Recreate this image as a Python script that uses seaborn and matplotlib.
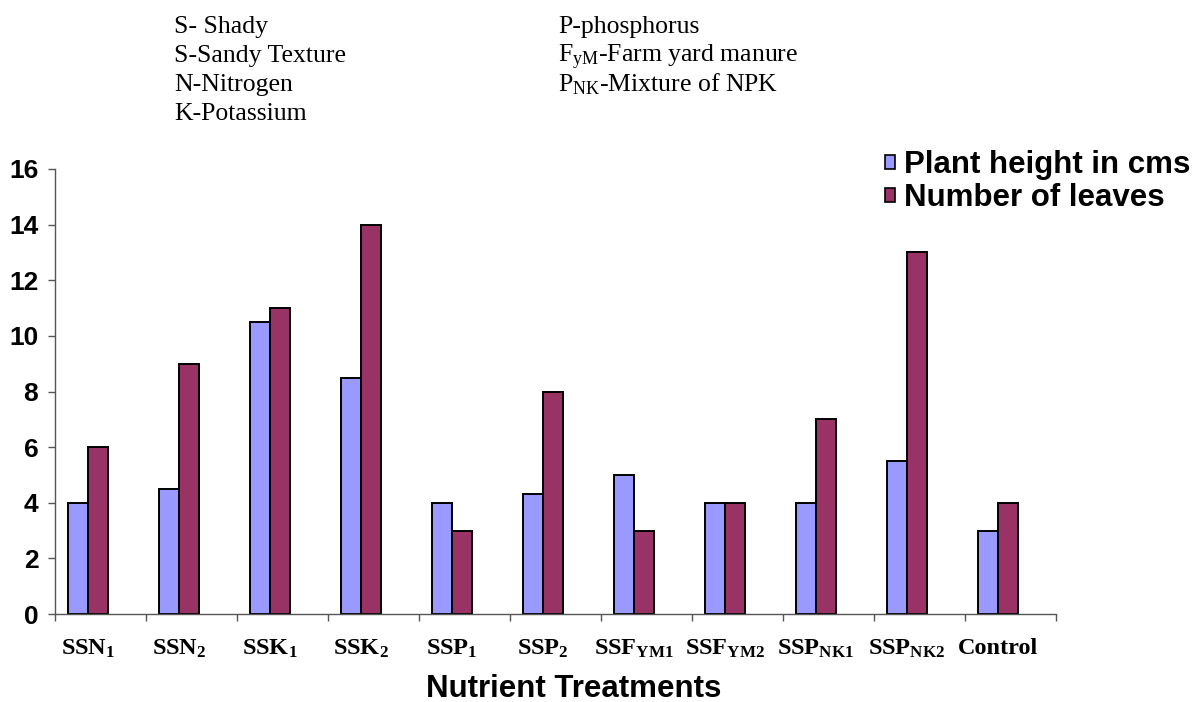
import pandas as pd
import matplotlib.pyplot as plt
import seaborn as sns
from matplotlib.patches import Patch

treatments = ["SSN1", "SSN2", "SSK1", "SSK2", "SSP1", "SSP2",
              "SSFYM1", "SSFYM2", "SSPNK1", "SSPNK2", "Control"]
tick_labels = [r"SSN$_\mathbf{1}$", r"SSN$_\mathbf{2}$", r"SSK$_\mathbf{1}$", r"SSK$_\mathbf{2}$",
               r"SSP$_\mathbf{1}$", r"SSP$_\mathbf{2}$", r"SSF$_\mathbf{YM1}$", r"SSF$_\mathbf{YM2}$",
               r"SSP$_\mathbf{NK1}$", r"SSP$_\mathbf{NK2}$", "Control"]
plant_height = [4, 4.5, 10.5, 8.5, 4, 4.3, 5, 4, 4, 5.5, 3]
num_leaves = [6, 9, 11, 14, 3, 8, 3, 4, 7, 13, 4]
series = ["Plant height in cms", "Number of leaves"]
colors = ["#9999FF", "#993366"]

df = pd.DataFrame({
    "treatment": treatments * 2,
    "measure": [series[0]] * len(treatments) + [series[1]] * len(treatments),
    "value": plant_height + num_leaves,
})

sns.set_style("white")
plt.rcParams["text.color"] = "black"
plt.rcParams["xtick.color"] = "black"
plt.rcParams["ytick.color"] = "black"
plt.rcParams["axes.labelcolor"] = "black"
plt.rcParams["mathtext.fontset"] = "custom"
plt.rcParams["mathtext.rm"] = "Liberation Serif"
plt.rcParams["mathtext.bf"] = "Liberation Serif:bold"
plt.rcParams["mathtext.it"] = "Liberation Serif:italic"

fig = plt.figure(figsize=(11.98, 7.02), dpi=100)
ax = fig.add_axes([55/1198, 1 - 614/702, (1056-55)/1198, (614-169)/702])

sns.barplot(data=df, x="treatment", y="value", hue="measure", order=treatments,
            hue_order=series, palette=colors, width=0.44, edgecolor="black",
            linewidth=1.4, saturation=1, legend=False, ax=ax)

ax.set_xlim(-0.36, 10.61)
ax.set_ylim(0, 16)
ax.set_yticks(range(0, 17, 2))
ax.set_yticklabels([str(v) for v in range(0, 17, 2)], fontfamily="Liberation Sans",
                   fontweight="bold", fontsize=19)
ax.set_xticks(range(len(treatments)))
ax.set_xticklabels(tick_labels, fontfamily="Liberation Serif", fontweight="bold", fontsize=17.5)
ax.set_xticks([-0.36 + k for k in range(12)], minor=True)
ax.tick_params(axis="x", which="major", length=0, pad=17)
ax.tick_params(axis="x", which="minor", length=5, color="#555555", width=1, bottom=True)
ax.tick_params(axis="y", length=5, color="#555555", width=1, left=True, pad=7)
ax.set_xlabel("")
ax.set_ylabel("")
for side in ["top", "right"]:
    ax.spines[side].set_visible(False)
for side in ["left", "bottom"]:
    ax.spines[side].set_color("#555555")
    ax.spines[side].set_linewidth(1)

fig.text(574/1198, 1 - 689/702, "Nutrient Treatments", ha="center", va="center",
         fontfamily="Liberation Sans", fontweight="bold", fontsize=22.5)

handles = [Patch(facecolor=c, edgecolor="black", linewidth=1.2) for c in colors]
fig.legend(handles, series, loc="upper left", bbox_to_anchor=(885/1198, 1 - 150/702),
           frameon=False, prop={"family": "Liberation Sans", "weight": "bold", "size": 22.5},
           handlelength=0.32, handleheight=0.32, handletextpad=0.3, labelspacing=0.1,
           borderpad=0, borderaxespad=0)

left_notes = ["S- Shady", "S-Sandy Texture", "N-Nitrogen", "K-Potassium"]
right_notes = ["P-phosphorus", r"F$_{\rm yM}$-Farm yard manure", r"P$_{\rm NK}$-Mixture of NPK"]
for i, t in enumerate(left_notes):
    fig.text(174/1198, 1 - (33 + 29*i)/702, t, ha="left", va="baseline",
             fontfamily="Liberation Serif", fontsize=18.5)
for i, t in enumerate(right_notes):
    fig.text(558/1198, 1 - (33 + 29*i)/702, t, ha="left", va="baseline",
             fontfamily="Liberation Serif", fontsize=18.5)

fig.savefig("out.png", dpi=100)
